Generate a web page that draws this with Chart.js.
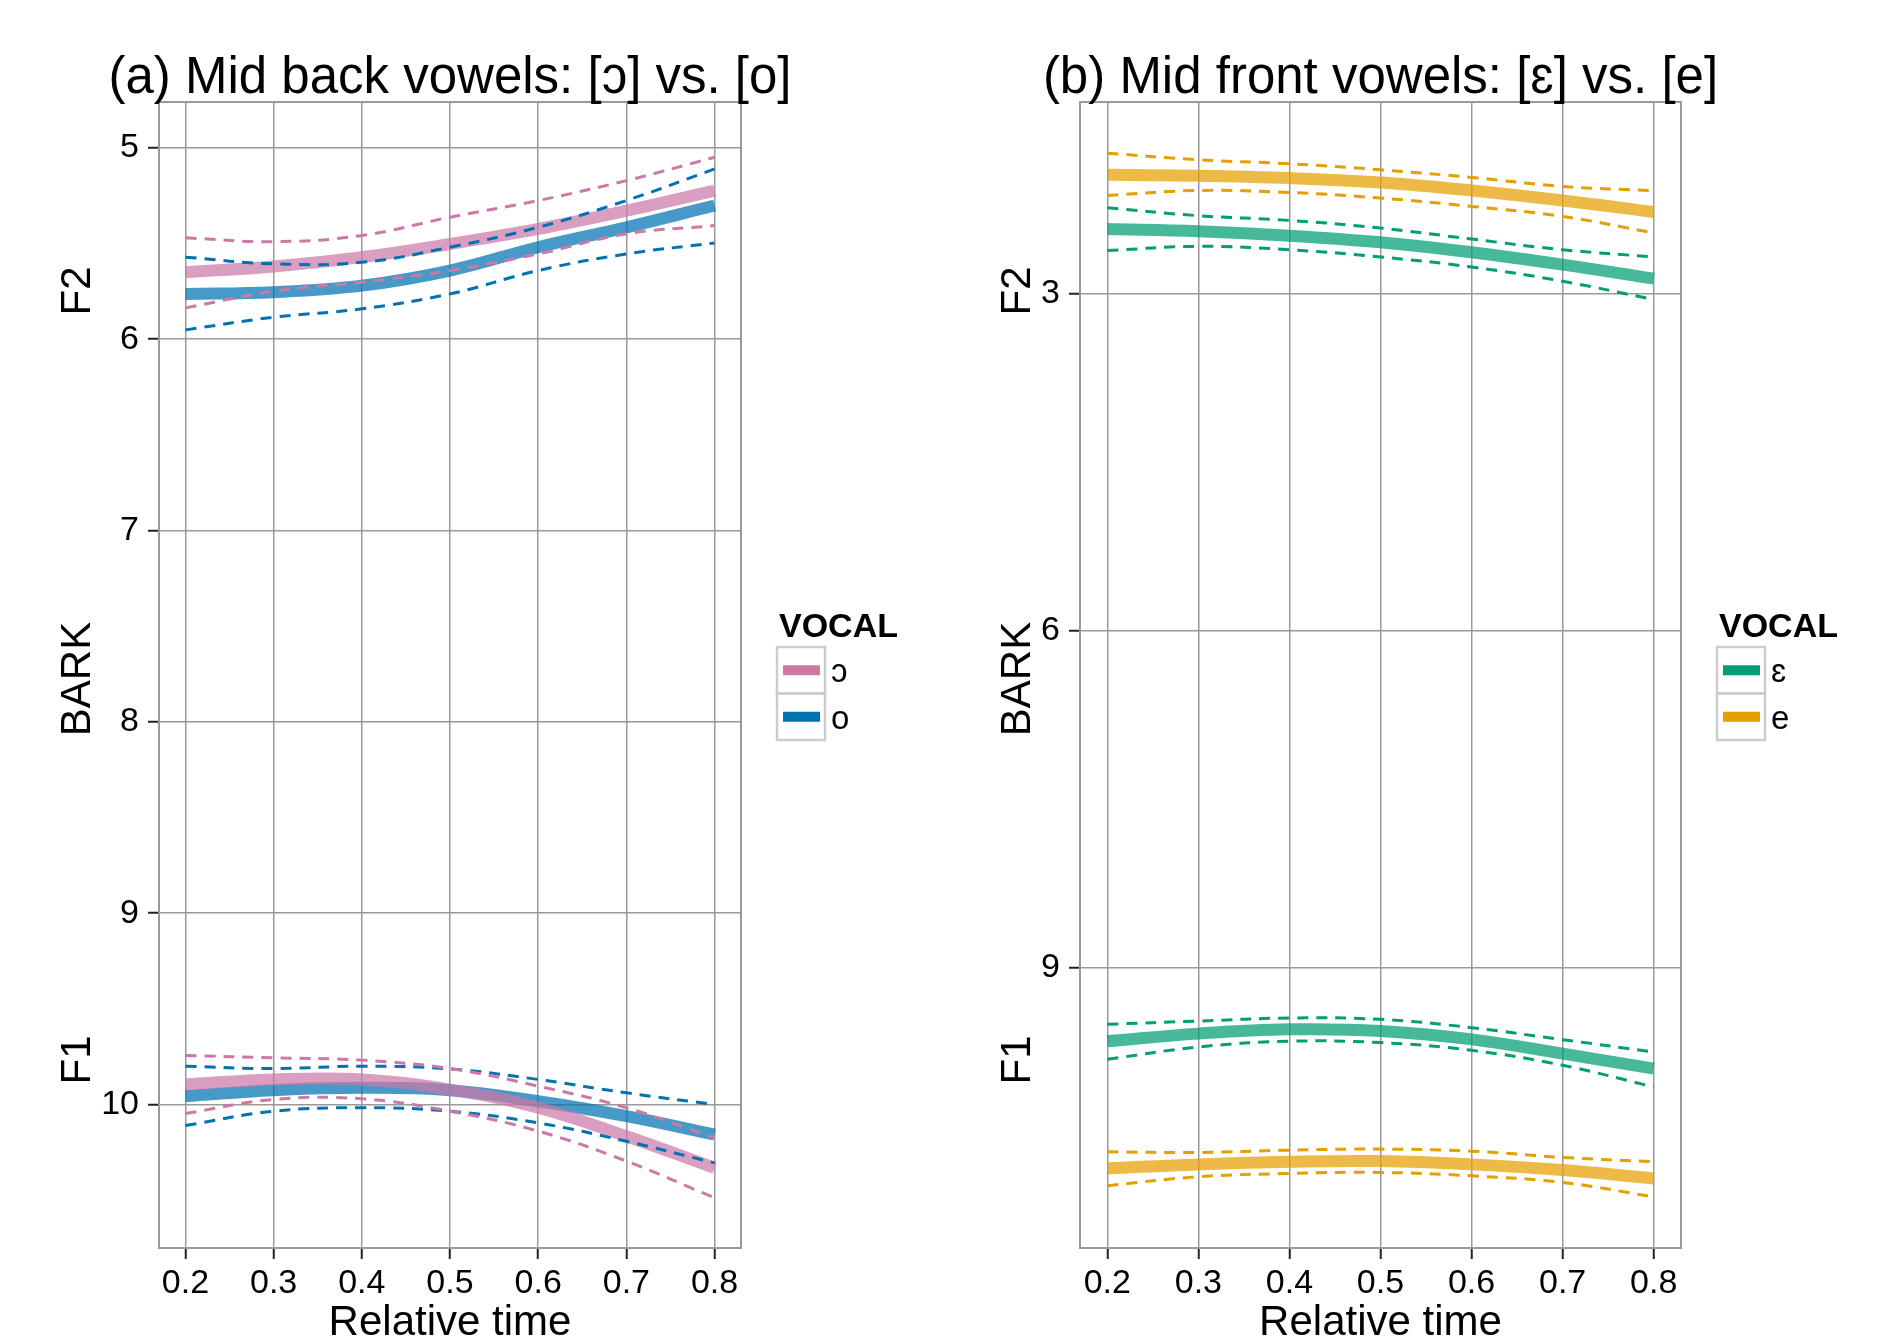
<!DOCTYPE html>
<html>
<head>
<meta charset="utf-8">
<script src="https://cdn.jsdelivr.net/npm/chart.js@4"></script>
<style>
  body { margin: 0; background: #fff; }
  canvas { position: absolute; top: 0; }
  #backChart { left: 0; }
  #frontChart { left: 951px; }
</style>
</head>
<body>
<canvas id="backChart" width="951" height="1340"></canvas>
<canvas id="frontChart" width="951" height="1340"></canvas>
<script>
// Relative time points (x) and tick labels
const times = [0.2, 0.3, 0.4, 0.5, 0.6, 0.7, 0.8];
const backYTicks = [5, 6, 7, 8, 9, 10];
const frontYTicks = [3, 6, 9];

// (a) back vowels: open o [ɔ]
const openOF2 = [5.65, 5.62, 5.571, 5.502, 5.423, 5.328, 5.223];
const openOF2Lo = [5.47, 5.49, 5.458, 5.362, 5.275, 5.171, 5.049];
const openOF2Hi = [5.836, 5.749, 5.702, 5.641, 5.554, 5.449, 5.406];
const openOF1 = [9.895, 9.869, 9.869, 9.922, 10.017, 10.166, 10.331];
const openOF1Lo = [9.744, 9.756, 9.768, 9.812, 9.904, 10.017, 10.174];
const openOF1Hi = [10.047, 9.974, 9.97, 10.035, 10.139, 10.296, 10.488];

// (a) back vowels: close o [o]
const closeOF2 = [5.763, 5.754, 5.72, 5.641, 5.519, 5.415, 5.301];
const closeOF2Lo = [5.571, 5.606, 5.598, 5.519, 5.415, 5.275, 5.11];
const closeOF2Hi = [5.951, 5.885, 5.841, 5.763, 5.641, 5.554, 5.497];
const closeOF1 = [9.956, 9.925, 9.913, 9.925, 9.983, 10.061, 10.157];
const closeOF1Lo = [9.8, 9.812, 9.8, 9.814, 9.869, 9.939, 10.0];
const closeOF1Hi = [10.11, 10.035, 10.017, 10.035, 10.096, 10.192, 10.305];

// (b) front vowels: open e [ɛ]
const openEF2 = [2.422, 2.442, 2.481, 2.54, 2.629, 2.739, 2.864];
const openEF2Lo = [2.232, 2.303, 2.345, 2.413, 2.511, 2.606, 2.671];
const openEF2Hi = [2.614, 2.576, 2.606, 2.671, 2.76, 2.887, 3.05];
const openEF1 = [9.658, 9.59, 9.552, 9.566, 9.641, 9.768, 9.902];
const openEF1Lo = [9.507, 9.478, 9.451, 9.463, 9.537, 9.644, 9.753];
const openEF1Hi = [9.819, 9.709, 9.658, 9.67, 9.739, 9.872, 10.065];

// (b) front vowels: close e [e]
const closeEF2 = [1.938, 1.947, 1.968, 2.007, 2.078, 2.167, 2.27];
const closeEF2Lo = [1.746, 1.805, 1.84, 1.894, 1.962, 2.042, 2.081];
const closeEF2Hi = [2.122, 2.078, 2.096, 2.146, 2.22, 2.309, 2.457];
const closeEF1 = [10.791, 10.755, 10.732, 10.726, 10.755, 10.806, 10.88];
const closeEF1Lo = [10.643, 10.649, 10.628, 10.619, 10.637, 10.693, 10.732];
const closeEF1Hi = [10.945, 10.865, 10.836, 10.827, 10.857, 10.916, 11.044];

const FONT = "'Liberation Sans', Arial, Helvetica, sans-serif";
const PINK = '#CC79A7', BLUE = '#0072B2', GREEN = '#009E73', ORANGE = '#E69F00';

function fade(hex, a) {
    const n = parseInt(hex.slice(1), 16);
    return `rgba(${n >> 16},${(n >> 8) & 255},${n & 255},${a})`;
}

function pts(vals) {
    return vals.map((v, i) => ({ x: times[i], y: v }));
}

// thick mean line + two dashed bounds
function curve(mean, lo, hi, color, order) {
    const dashed = vals => ({
        data: pts(vals), borderColor: color, borderWidth: 3,
        borderDash: [11, 8], pointRadius: 0, tension: 0.4, fill: false, order: 0
    });
    return [
        { data: pts(mean), borderColor: fade(color, 0.72), borderWidth: 12,
          pointRadius: 0, tension: 0.4, fill: false, order: order },
        dashed(lo), dashed(hi)
    ];
}

// title, y labels, panel border and legend
const decor = {
    id: 'decor',
    afterDraw(chart) {
        const o = chart.options.plugins.decor;
        const a = chart.chartArea;
        const ctx = chart.ctx;
        const cy = (a.top + a.bottom) / 2;
        ctx.save();
        ctx.strokeStyle = '#999999';
        ctx.lineWidth = 2;
        ctx.strokeRect(a.left, a.top, a.right - a.left, a.bottom - a.top);

        ctx.fillStyle = '#000';
        ctx.font = `51px ${FONT}`;
        ctx.textAlign = 'center';
        ctx.textBaseline = 'alphabetic';
        ctx.fillText(o.title, (a.left + a.right) / 2, 93);

        // F2 / BARK / F1 rotated
        ctx.save();
        ctx.translate(a.left - o.yTitleGap, 0);
        ctx.rotate(-Math.PI / 2);
        ctx.font = `42px ${FONT}`;
        ctx.textBaseline = 'middle';
        ctx.fillText('F2', -(cy - 384), 0);
        ctx.fillText('BARK', -(cy + 4), 0);
        ctx.fillText('F1', -(cy + 385), 0);
        ctx.restore();

        // legend
        const lx = a.right + 36;
        ctx.textAlign = 'left';
        ctx.font = `bold 34px ${FONT}`;
        ctx.fillText('VOCAL', lx + 2, cy - 38);
        const top = cy - 28, cell = 46.5, w = 48;
        o.keys.forEach((k, i) => {
            const y0 = top + i * cell;
            ctx.strokeStyle = '#cccccc';
            ctx.lineWidth = 2.5;
            ctx.strokeRect(lx, y0, w, cell);
            ctx.strokeStyle = k.color;
            ctx.lineWidth = 10;
            ctx.beginPath();
            ctx.moveTo(lx + 6, y0 + cell / 2);
            ctx.lineTo(lx + w - 5, y0 + cell / 2);
            ctx.stroke();
            ctx.font = `33px ${FONT}`;
            ctx.fillStyle = '#000';
            ctx.fillText(k.label, lx + w + 6, y0 + cell / 2 + 12);
        });
        ctx.restore();
    }
};

function makePanel(id, cfg) {
    const gridOpts = { color: '#999999', lineWidth: 1.5, tickLength: 11,
                       tickColor: '#222', tickWidth: 2 };
    return new Chart(id, {
        type: 'line',
        data: { datasets: cfg.datasets },
        options: {
            responsive: false,
            animation: false,
            layout: { padding: { top: 102, right: cfg.padRight, left: 0, bottom: 0 } },
            plugins: {
                legend: { display: false },
                tooltip: { enabled: false },
                decor: { title: cfg.title, keys: cfg.keys, yTitleGap: cfg.yTitleGap }
            },
            scales: {
                x: {
                    type: 'linear', min: 0.17, max: 0.83,
                    afterBuildTicks: s => { s.ticks = times.map(v => ({ value: v })); },
                    afterFit: s => { s.height = 92; },
                    border: { display: false },
                    grid: gridOpts,
                    ticks: { callback: v => v.toFixed(1), color: '#000', padding: 4,
                             maxRotation: 0, font: { family: FONT, size: 34 } },
                    title: { display: true, text: 'Relative time', color: '#000',
                             padding: { top: 0, bottom: 0 },
                             font: { family: FONT, size: 42, lineHeight: 0.8 } }
                },
                y: {
                    type: 'linear', reverse: true, min: cfg.yMin, max: cfg.yMax,
                    afterBuildTicks: s => { s.ticks = cfg.yTicks.map(v => ({ value: v })); },
                    afterFit: s => { s.width = cfg.yWidth; },
                    border: { display: false },
                    grid: gridOpts,
                    ticks: { color: '#000', padding: 9, font: { family: FONT, size: 34 } }
                }
            }
        },
        plugins: [decor]
    });
}

makePanel('backChart', {
    title: '(a) Mid back vowels: [ɔ] vs. [o]',
    yMin: 4.76, yMax: 10.75, yTicks: backYTicks, yWidth: 159, padRight: 210, yTitleGap: 81,
    keys: [{ label: 'ɔ', color: PINK }, { label: 'o', color: BLUE }],
    datasets: [
        ...curve(openOF2, openOF2Lo, openOF2Hi, PINK, 1),
        ...curve(openOF1, openOF1Lo, openOF1Hi, PINK, 1),
        ...curve(closeOF2, closeOF2Lo, closeOF2Hi, BLUE, 2),
        ...curve(closeOF1, closeOF1Lo, closeOF1Hi, BLUE, 2)
    ]
});

makePanel('frontChart', {
    title: '(b) Mid front vowels: [ɛ] vs. [e]',
    yMin: 1.29, yMax: 11.5, yTicks: frontYTicks, yWidth: 129, padRight: 221, yTitleGap: 62,
    keys: [{ label: 'ɛ', color: GREEN }, { label: 'e', color: ORANGE }],
    datasets: [
        ...curve(openEF2, openEF2Lo, openEF2Hi, GREEN, 1),
        ...curve(openEF1, openEF1Lo, openEF1Hi, GREEN, 1),
        ...curve(closeEF2, closeEF2Lo, closeEF2Hi, ORANGE, 2),
        ...curve(closeEF1, closeEF1Lo, closeEF1Hi, ORANGE, 2)
    ]
});
</script>
</body>
</html>
